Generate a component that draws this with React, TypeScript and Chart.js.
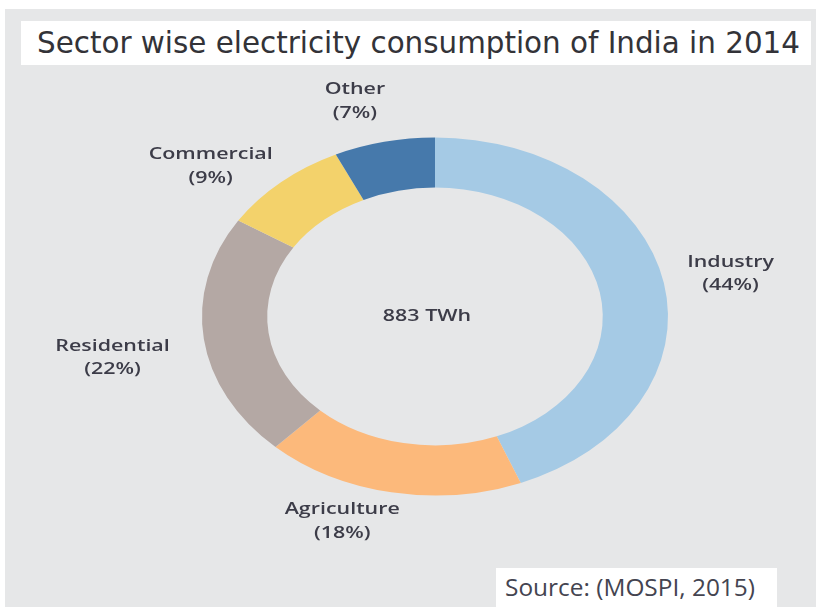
import React, { useEffect, useRef } from "react";
import { Chart, registerables } from "chart.js";

Chart.register(...registerables);

// ---- data ----
const categories = ["Industry", "Agriculture", "Residential", "Commercial", "Other"];
const shares = [44, 18, 22, 9, 7];
const percentLabels = ["(44%)", "(18%)", "(22%)", "(9%)", "(7%)"];
const centerLabel = "883 TWh";
const titleText = "Sector wise electricity consumption of India in 2014";
const sourceText = "Source: (MOSPI, 2015)";

// ---- styles / layout ----
const COLORS = ["#a5cae5", "#fcb97b", "#b4a8a4", "#f3d26b", "#4679ab"];
const BG = "#e6e7e8";
const TEXT = "#3c3c48";
const STRETCH = 233 / 179; // horizontal stretch of the ring
const TEXT_STRETCH = 1.26;
const LABEL_RADIUS = 1.3;
const LABEL_NUDGE: [number, number][] = [
  [-2, 1],
  [-36, -24],
  [-22, 12],
  [-24, 24],
  [-14, 12],
];
const CENTER_NUDGE: [number, number] = [-8, 0];
const LINE_GAP = 23.5;

function stretchedText(ctx: CanvasRenderingContext2D, text: string, x: number, y: number) {
  ctx.save();
  ctx.translate(x, y);
  ctx.scale(TEXT_STRETCH, 1);
  ctx.fillText(text, 0, 0);
  ctx.restore();
}

const ellipsePlugin = {
  id: "ellipseRing",
  beforeDatasetsDraw(chart: any) {
    const arc = chart.getDatasetMeta(0).data[0];
    if (!arc) return;
    const { x, y } = arc.getProps(["x", "y"], true);
    const ctx = chart.ctx;
    ctx.save();
    ctx.translate(x, y);
    ctx.scale(STRETCH, 1);
    ctx.translate(-x, -y);
  },
  afterDatasetsDraw(chart: any) {
    chart.ctx.restore();
  },
  afterDraw(chart: any) {
    const ctx: CanvasRenderingContext2D = chart.ctx;
    const meta = chart.getDatasetMeta(0);
    ctx.save();
    ctx.fillStyle = TEXT;
    ctx.textAlign = "center";
    ctx.textBaseline = "middle";
    ctx.font = "600 17px 'Open Sans'";
    let cx = 0;
    let cy = 0;
    meta.data.forEach((arc: any, i: number) => {
      const p = arc.getProps(["x", "y", "startAngle", "endAngle", "outerRadius"], true);
      cx = p.x;
      cy = p.y;
      const mid = (p.startAngle + p.endAngle) / 2;
      const r = p.outerRadius * LABEL_RADIUS;
      const lx = p.x + Math.cos(mid) * r * STRETCH + LABEL_NUDGE[i][0];
      const ly = p.y + Math.sin(mid) * r + LABEL_NUDGE[i][1];
      stretchedText(ctx, categories[i], lx, ly - LINE_GAP / 2);
      stretchedText(ctx, percentLabels[i], lx, ly + LINE_GAP / 2);
    });
    stretchedText(ctx, centerLabel, cx + CENTER_NUDGE[0], cy + CENTER_NUDGE[1]);
    ctx.restore();
  },
};

export default function App() {
  const canvasRef = useRef<HTMLCanvasElement>(null);
  const titleRef = useRef<HTMLSpanElement>(null);
  const sourceRef = useRef<HTMLSpanElement>(null);

  useEffect(() => {
    const fit = (el: HTMLSpanElement | null, target: number) => {
      if (!el) return;
      el.style.transform = "none";
      const w = el.getBoundingClientRect().width;
      if (w > 0) el.style.transform = `scaleX(${target / w})`;
    };
    fit(titleRef.current, 763);
    fit(sourceRef.current, 250);

    if (!canvasRef.current) return;
    const chart = new Chart(canvasRef.current, {
      type: "doughnut",
      data: {
        labels: categories,
        datasets: [
          {
            data: shares,
            backgroundColor: COLORS,
            borderWidth: 0,
            clip: false as any,
          },
        ],
      },
      options: {
        animation: false,
        responsive: true,
        maintainAspectRatio: false,
        cutout: "72%",
        layout: { padding: { left: 256, right: 202, top: 137.5, bottom: 113.5 } },
        plugins: {
          legend: { display: false },
          tooltip: { enabled: false },
          title: { display: false },
        },
      },
      plugins: [ellipsePlugin],
    });
    return () => chart.destroy();
  }, []);

  return (
    <div style={{ position: "absolute", left: 0, top: 0, width: 816, height: 609, background: "#ffffff", overflow: "hidden" }}>
      <div style={{ position: "absolute", left: 5, top: 9, width: 811, height: 598, background: BG }} />
      <div
        style={{
          position: "absolute",
          left: 21,
          top: 21,
          width: 790,
          height: 44,
          background: "#ffffff",
          overflow: "hidden",
        }}
      >
        <span
          ref={titleRef}
          style={{
            position: "absolute",
            left: 16,
            top: 0,
            lineHeight: "44px",
            fontFamily: "'DejaVu Sans Condensed', 'DejaVu Sans', sans-serif",
            fontStretch: "condensed",
            fontSize: 30,
            color: "#333338",
            whiteSpace: "nowrap",
            transformOrigin: "0 50%",
          }}
        >
          {titleText}
        </span>
      </div>
      <div
        style={{
          position: "absolute",
          left: 496,
          top: 568,
          width: 281,
          height: 39,
          background: "#ffffff",
          overflow: "hidden",
        }}
      >
        <span
          ref={sourceRef}
          style={{
            position: "absolute",
            left: 9,
            top: 0,
            lineHeight: "38px",
            fontFamily: "'Open Sans', sans-serif",
            fontSize: 23,
            color: "#444450",
            whiteSpace: "nowrap",
            transformOrigin: "0 50%",
          }}
        >
          {sourceText}
        </span>
      </div>
      <div style={{ position: "absolute", left: 0, top: 0, width: 816, height: 609 }}>
        <canvas ref={canvasRef} />
      </div>
    </div>
  );
}
